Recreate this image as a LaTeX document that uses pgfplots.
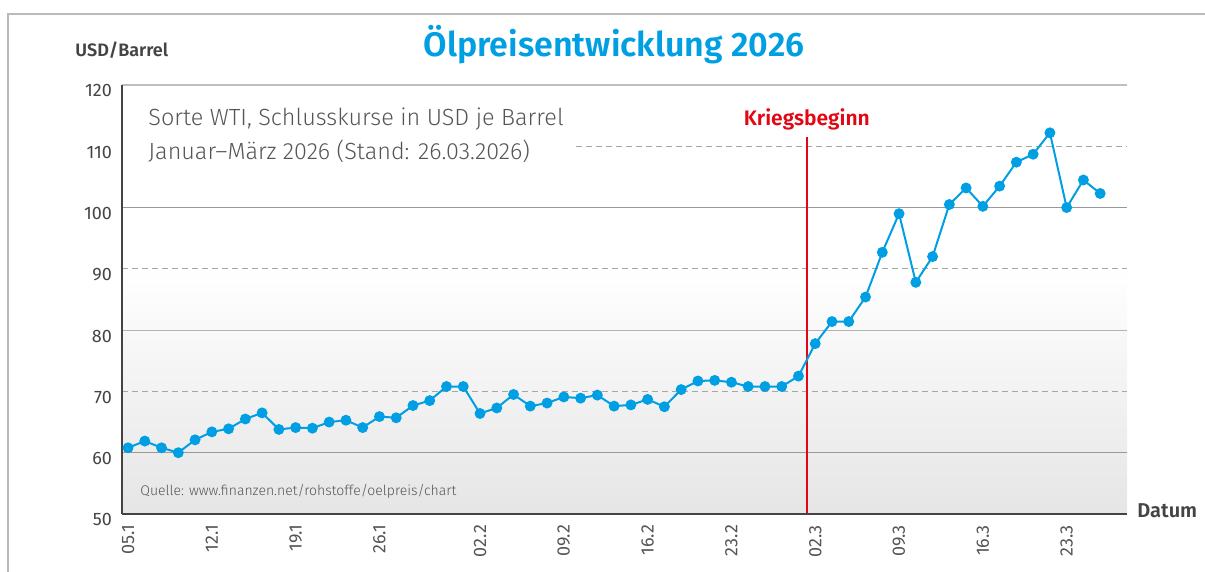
\documentclass[border=0pt]{standalone}
\usepackage{fontspec}
\setmainfont{Fira Sans}
\newfontfamily\lightfont{Fira Sans Light}
\newfontfamily\semibold{Fira Sans SemiBold}
\usepackage{pgfplots}
\pgfplotsset{compat=1.18}
\definecolor{oilblue}{HTML}{009FE3}
\definecolor{warred}{HTML}{E30613}
\definecolor{txtgray}{HTML}{555555}
\definecolor{axgray}{HTML}{444444}
\begin{document}
\begin{tikzpicture}[x=0.5pt,y=0.5pt]
\path[use as bounding box] (0,0) rectangle (1205,572);
\draw[color=black!27, line width=1pt] (8,0) -- (8,558) -- (1205,558);
\node[font=\fontsize{17}{20}\selectfont\semibold, text=oilblue, anchor=base] at (614,515) {Ölpreisentwicklung 2026};
\node[font=\fontsize{9}{11}\selectfont\semibold, text=axgray, anchor=base west, inner sep=0pt] at (75,515) {USD/Barrel};
\begin{axis}[
  at={(61pt,29pt)}, anchor=south west, scale only axis,
  width=502.5pt, height=214.5pt,
  xmin=-0.36, xmax=59.6, ymin=50, ymax=120,
  axis x line*=bottom, axis y line*=left,
  axis line style={draw=axgray, line width=1pt, -},
  axis on top,
  xtick={0,5,10,15,21,26,31,36,41,46,51,56},
  xticklabels={05.1,12.1,19.1,26.1,02.2,09.2,16.2,23.2,02.3,09.3,16.3,23.3},
  ytick={50,60,...,120},
  major tick length=0pt,
  /pgf/number format/assume math mode=true,
  x tick label style={font=\fontsize{9}{11}\selectfont, text=txtgray, rotate=90, anchor=east, xshift=-2pt},
  y tick label style={font=\fontsize{9}{11}\selectfont, text=axgray, xshift=-1.5pt, yshift=-3pt},
  clip=false,
]
\fill[top color=white, bottom color=black!10] (axis cs:-0.36,50) rectangle (axis cs:59.6,90);
\draw[black!25, line width=0.8pt] (axis cs:-0.36,120) -- (axis cs:59.6,120);
\draw[black!35, dash pattern=on 3pt off 2pt, line width=0.5pt] (axis cs:26.7,110) -- (axis cs:59.6,110);
\draw[black!40, line width=0.6pt] (axis cs:-0.36,100) -- (axis cs:59.6,100);
\draw[black!35, dash pattern=on 3pt off 2pt, line width=0.5pt] (axis cs:-0.36,90) -- (axis cs:59.6,90);
\draw[black!30, line width=0.6pt] (axis cs:-0.36,80) -- (axis cs:59.6,80);
\draw[black!35, dash pattern=on 3pt off 2pt, line width=0.5pt] (axis cs:-0.36,70) -- (axis cs:59.6,70);
\draw[black!40, line width=0.6pt] (axis cs:-0.36,60) -- (axis cs:59.6,60);
\draw[warred, line width=1pt] (axis cs:40.5,50) -- (axis cs:40.5,111.5);
\node[text=warred, font=\fontsize{10.5}{12}\selectfont\semibold, anchor=base] at (axis cs:40.5,113.4) {Kriegsbeginn};
\addplot[color=oilblue, line width=1pt, mark=*, mark size=2.2pt, mark options={fill=oilblue, draw=oilblue}] coordinates {
(0,60.8) (1,61.9) (2,60.8) (3,60.0) (4,62.1) (5,63.4) (6,63.9) (7,65.5) (8,66.5) (9,63.8)
(10,64.1) (11,64.0) (12,65.0) (13,65.3) (14,64.1) (15,65.9) (16,65.7) (17,67.7) (18,68.5) (19,70.8)
(20,70.8) (21,66.4) (22,67.3) (23,69.5) (24,67.6) (25,68.1) (26,69.1) (27,68.9) (28,69.4) (29,67.6)
(30,67.8) (31,68.7) (32,67.5) (33,70.3) (34,71.7) (35,71.8) (36,71.5) (37,70.8) (38,70.8) (39,70.8)
(40,72.5) (41,77.8) (42,81.4) (43,81.4) (44,85.4) (45,92.7) (46,99.0) (47,87.8) (48,92.0) (49,100.5)
(50,103.2) (51,100.2) (52,103.5) (53,107.4) (54,108.7) (55,112.2) (56,100.0) (57,104.5) (58,102.3)
};
\end{axis}
\node[font=\fontsize{11.7}{13}\selectfont\lightfont, text=txtgray, anchor=base west, inner sep=0pt] at (148,446) {Sorte WTI, Schlusskurse in USD je Barrel};
\node[font=\fontsize{11.7}{13}\selectfont\lightfont, text=txtgray, anchor=base west, inner sep=0pt] at (148,412) {Januar–März 2026 (Stand: 26.03.2026)};
\node[font=\fontsize{7}{8}\selectfont\lightfont, text=txtgray, anchor=base west, inner sep=0pt] at (140,76) {Quelle: www.finanzen.net/rohstoffe/oelpreis/chart};
\node[font=\fontsize{10}{12}\selectfont\semibold, text=axgray, anchor=base west, inner sep=0pt] at (1137,54) {Datum};
\end{tikzpicture}
\end{document}
